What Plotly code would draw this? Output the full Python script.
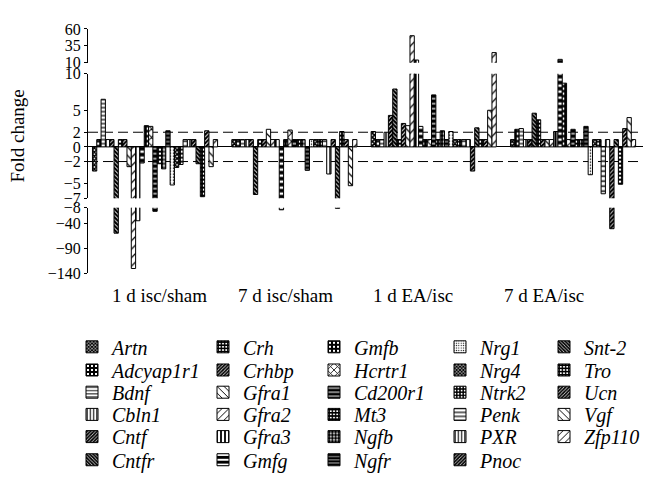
import plotly.graph_objects as go

# ---------------- data ----------------
groups = ["1 d isc/sham", "7 d isc/sham", "1 d EA/isc", "7 d EA/isc"]
genes = ["Artn", "Adcyap1r1", "Bdnf", "Cbln1", "Cntf", "Cntfr",
         "Crh", "Crhbp", "Gfra1", "Gfra2", "Gfra3", "Gmfg",
         "Gmfb", "Hcrtr1", "Cd200r1", "Mt3", "Ngfb", "Ngfr",
         "Nrg1", "Nrg4", "Ntrk2", "Penk", "PXR", "Pnoc",
         "Snt-2", "Tro", "Ucn", "Vgf", "Zfp110"]

fc_1d_isc_sham = [-3.3, 1, 6.5, 1, 1, -59, 1, 1, -2.7, -130, -34, -2.2, 2.9, 2.8, -15,
                  -2.3, -3, 2.2, -5.2, -2.8, -2.4, 1, 1, 1, -2.3, -6.8, 2.2, -2.7, 1]
fc_7d_isc_sham = [1, 1, 1, 1, 1, -6.5, 1, 1, 2.4, 1, 1, -12, 1, 2.3, 1,
                  1, 1, -3.2, 1, 1, 1, 1, -3.7, 1, -9, 2.1, 1, -5.3, 1]
fc_1d_ea_isc = [2.1, 1, 1, 2, 4.3, 7.9, 1, 3.2, 2.9, 50, 14, 2.8, 1, 1, 7.1,
                1, 2.2, 1, 2.1, 1, 1, 1, 1, -3.3, 2.6, 1, 1, 5, 25]
fc_7d_ea_isc = [1, 2.4, 2.5, 1, 1, 4.6, 3.7, 1, 1, 1, 2.1, 15, 8.7, 1, 2.4,
                1, 1, 2.8, -3.8, 1, 1, -6.4, 1, -50, 1, -5.1, 2.5, 4, 1]

top_ticks = [10, 35, 60]
mid_ticks = [-7, -5, -2, 0, 2, 5, 10]
bot_ticks = [-140, -90, -40, -8]
threshold = [2, -2]

# ---------------- styles ----------------
# (shape, size, solidity, fg, bg)
patterns = [
    ("x", 3, 0.75, "black", "white"),  # Artn
    ("+", 5, 0.75, "black", "white"),  # Adcyap1r1
    ("-", 4, 0.3, "black", "white"),   # Bdnf
    ("|", 4, 0.35, "black", "white"),  # Cbln1
    ("/", 3, 0.75, "black", "white"),  # Cntf
    ("\\", 3, 0.75, "black", "white"), # Cntfr
    ("+", 4, 0.7, "black", "white"),   # Crh
    ("/", 3, 0.7, "black", "white"),   # Crhbp
    ("\\", 6, 0.2, "black", "white"),  # Gfra1
    ("/", 6, 0.2, "black", "white"),   # Gfra2
    ("|", 5, 0.45, "black", "white"),  # Gfra3
    ("-", 6, 0.6, "black", "white"),   # Gmfg
    ("+", 5, 0.75, "black", "white"),  # Gmfb
    ("x", 6, 0.3, "black", "white"),   # Hcrtr1
    ("-", 5, 0.75, "black", "white"),  # Cd200r1
    ("+", 4, 0.7, "black", "white"),   # Mt3
    (".", 4, 0.7, "black", "white"),   # Ngfb
    ("-", 4, 0.8, "black", "white"),   # Ngfr
    (".", 3, 0.2, "black", "white"),   # Nrg1
    ("x", 3, 0.75, "black", "white"),  # Nrg4
    (".", 4, 0.3, "white", "black"),   # Ntrk2
    ("-", 5, 0.3, "black", "white"),   # Penk
    ("|", 4, 0.35, "black", "white"),  # PXR
    ("/", 3, 0.75, "black", "white"),  # Pnoc
    ("\\", 3, 0.75, "black", "white"), # Snt-2
    ("+", 4, 0.7, "black", "white"),   # Tro
    ("/", 3, 0.7, "black", "white"),   # Ucn
    ("\\", 6, 0.2, "black", "white"),  # Vgf
    ("/", 6, 0.2, "black", "white"),   # Zfp110
]

W, H = 645, 490
L, R, T, B = 88, 2, 0, 0
PW = W - L - R
def py(p):
    return 1 - p / H
def px(p):
    return (p - L) / PW

FONT = "Liberation Serif, Times New Roman, serif"

fig = go.Figure()

series = [fc_1d_isc_sham, fc_7d_isc_sham, fc_1d_ea_isc, fc_7d_ea_isc]
col_text_x = [113, 244, 355, 481, 585]
row_y = [351, 375, 398, 421, 444, 468]

# broken axis: which values reach each segment
segments = {
    "y": lambda v: v,
    "y2": lambda v: v if v > top_ticks[0] else None,
    "y3": lambda v: v if v < bot_ticks[-1] else None,
}

for i, g in enumerate(genes):
    vals = [s[i] for s in series]
    shp, sz, sol, fg, bg = patterns[i]
    lg = "legend" if i == 0 else f"legend{i+1}"
    for ax, keep in segments.items():
        fig.add_trace(go.Bar(
            x=groups, y=[keep(v) for v in vals], name=g, yaxis=ax, xaxis="x",
            legend=lg, legendgroup=g, showlegend=(ax == "y"),
            marker=dict(color=bg, line=dict(color="black", width=1),
                        pattern=dict(shape=shp, size=sz, solidity=sol,
                                     fgcolor=fg, bgcolor=bg, fillmode="replace")),
            hoverinfo="skip",
        ))

axis_common = dict(showline=True, linecolor="black", linewidth=1, ticks="outside",
                   ticklen=3, tickcolor="black", tickwidth=1, showgrid=False,
                   tickfont=dict(family=FONT, size=16, color="black"),
                   anchor="x", zeroline=False, tickmode="array")

layout = dict(
    width=W, height=H,
    margin=dict(l=L, r=R, t=T, b=B),
    font=dict(family=FONT, size=16, color="black"),
    paper_bgcolor="white", plot_bgcolor="white",
    barmode="group", bargap=0.102, bargroupgap=0,
    xaxis=dict(type="category", range=[-0.481, 3.502], domain=[0, 1],
               showline=False, ticks="", showticklabels=False, showgrid=False,
               zeroline=False, anchor="y3"),
    yaxis=dict(axis_common, domain=[py(197), py(68)], range=[-7, 10],
               tickvals=mid_ticks, zeroline=True, zerolinecolor="black", zerolinewidth=1,
               title=dict(text="Fold change", font=dict(family=FONT, size=19, color="black"),
                          standoff=34)),
    yaxis2=dict(axis_common, domain=[py(56.7), py(21.7)], range=[10, 60], tickvals=top_ticks),
    yaxis3=dict(axis_common, domain=[py(275), py(207)], range=[-140, -8], tickvals=bot_ticks),
    showlegend=True,
)

for i, g in enumerate(genes):
    c, r = i // 6, i % 6
    lg = "legend" if i == 0 else f"legend{i+1}"
    layout[lg] = dict(x=px(col_text_x[c] - 41), y=py(row_y[r]), xanchor="left", yanchor="middle",
                      bgcolor="rgba(0,0,0,0)", borderwidth=0, itemwidth=30,
                      font=dict(family=FONT, size=20, style="italic", color="black"))

fig.update_layout(**layout)

for t in threshold:
    fig.add_shape(type="line", xref="paper", yref="y", x0=0, x1=1, y0=t, y1=t,
                  line=dict(color="black", width=1, dash="10px,5px"), layer="below")

label_x = [159.5, 285, 413, 544]
for lab, lx in zip(groups, label_x):
    fig.add_annotation(text=lab, x=px(lx), y=py(298), xref="paper", yref="paper",
                       showarrow=False, xanchor="center", yanchor="middle",
                       font=dict(family=FONT, size=19, color="black"))

fig.write_html("out.html")
